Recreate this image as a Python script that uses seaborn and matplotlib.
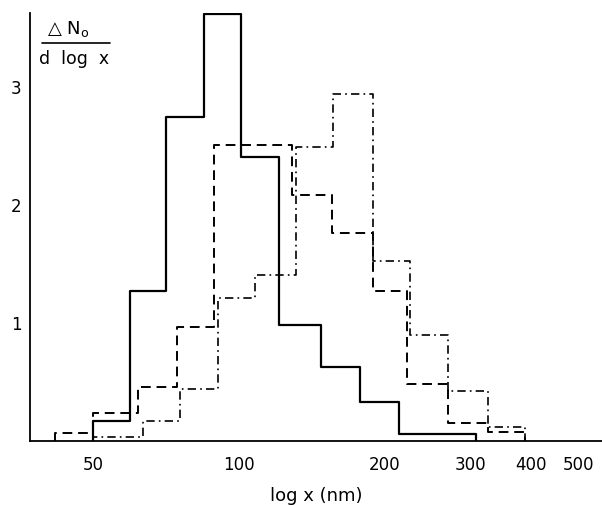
import numpy as np
import pandas as pd
import matplotlib
matplotlib.use("Agg")
import matplotlib.pyplot as plt
import seaborn as sns
from matplotlib.ticker import FixedLocator, FixedFormatter, NullLocator
from matplotlib.lines import Line2D

# Bin edges (nm) and heights
solid_edges = [50, 59.6, 70.7, 84.7, 101, 120.9, 147.6, 178, 214, 308]
solid_vals = [0.17, 1.27, 2.75, 3.62, 2.41, 0.98, 0.63, 0.33, 0.06]

dashed_edges = [41.7, 50, 61.9, 74.5, 88.8, 128.6, 155.5, 188.9, 222, 270, 326, 389]
dashed_vals = [0.07, 0.24, 0.46, 0.97, 2.51, 2.09, 1.76, 1.27, 0.48, 0.15, 0.08]

dashdot_edges = [50, 63.4, 75.6, 90.5, 107.9, 131.1, 156.3, 188.9, 225, 270, 326, 389]
dashdot_vals = [0.03, 0.17, 0.44, 1.21, 1.41, 2.49, 2.94, 1.53, 0.90, 0.42, 0.12]

xticks = [50, 100, 200, 300, 400, 500]
xtick_labels = ["50", "100", "200", "300", "400", "500"]
yticks = [1, 2, 3]

sns.set_theme(style="white")
plt.rcParams['font.family'] = ['DejaVu Sans']

fig = plt.figure(figsize=(6.02, 5.05), dpi=100)
ax = fig.add_axes([30/602, 64/505, 572/602, 428/505])


def step_frame(edges, vals):
    xs = [edges[0]] + list(edges)
    ys = [0] + list(vals) + [0]
    return pd.DataFrame({"x": xs, "y": ys})


for edges, vals, ls, lw in [
    (solid_edges, solid_vals, "-", 1.6),
    (dashed_edges, dashed_vals, (0, (5, 3)), 1.4),
    (dashdot_edges, dashdot_vals, (0, (5, 2.5, 1, 2.5)), 1.2),
]:
    df = step_frame(edges, vals)
    sns.lineplot(data=df, x="x", y="y", ax=ax, estimator=None, sort=False,
                 drawstyle="steps-post", color="black", linestyle=ls,
                 linewidth=lw)

ax.set_xscale("log")
ax.set_xlim(37.1, 560)
ax.set_ylim(0, 3.63)
ax.xaxis.set_major_locator(FixedLocator(xticks))
ax.xaxis.set_major_formatter(FixedFormatter(xtick_labels))
ax.xaxis.set_minor_locator(NullLocator())
ax.set_yticks(yticks)
ax.set_yticklabels([str(t) for t in yticks])

for s in ["top", "right"]:
    ax.spines[s].set_visible(False)
for s in ["left", "bottom"]:
    ax.spines[s].set_color("black")
    ax.spines[s].set_linewidth(1.3)

ax.tick_params(axis="both", direction="out", length=3, width=1,
               color="black", labelsize=12, labelcolor="black")
ax.tick_params(axis="x", pad=8)
ax.tick_params(axis="y", pad=3)
ax.set_xlabel("log x (nm)", fontsize=13, color="black", labelpad=9)
ax.set_ylabel("")

# fraction-style y label at top left
fig.text(68/602, 1 - 29/505, "\u25b3 N$_\\mathregular{o}$", ha="center", va="center",
         fontsize=13, color="black")
fig.add_artist(Line2D([42/602, 110/602], [1 - 43/505, 1 - 43/505],
                      color="black", linewidth=1.2))
fig.text(74/602, 1 - 59/505, "d  log  x", ha="center", va="center",
         fontsize=12.5, color="black")

fig.savefig("out.png", dpi=100, facecolor="white")
